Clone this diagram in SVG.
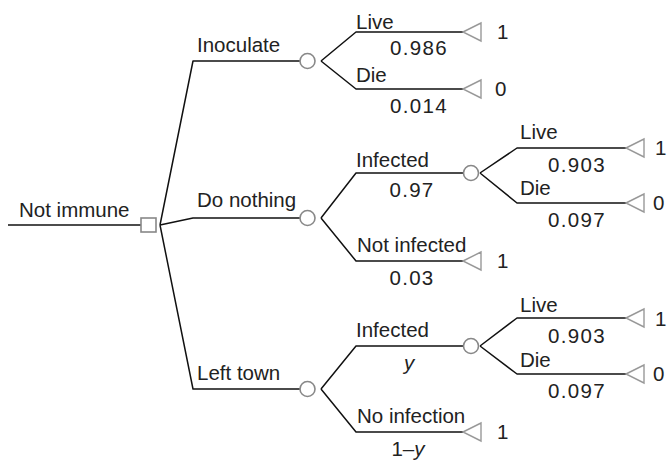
<svg xmlns="http://www.w3.org/2000/svg" width="667" height="464" viewBox="0 0 667 464">
<style>
.ln{fill:none;stroke:#111;stroke-width:1.5;stroke-linejoin:round}
.ch{fill:#fff;stroke:#888;stroke-width:1.6}
.tr{fill:#fff;stroke:#999;stroke-width:1.4}
text{font-family:"Liberation Sans",Arial,sans-serif;font-size:20.5px;fill:#222}
.c{text-anchor:middle}
.n{letter-spacing:1.3px}
.i{font-style:italic}
</style>
<rect width="667" height="464" fill="#fff"/>
<g id="connectors">
<path class="ln" d="M8,225 H141"/>
<path class="ln" d="M160,225 L193,61 H300"/>
<path class="ln" d="M160,225 L193,218 H300"/>
<path class="ln" d="M160,225 L193,389 H300"/>
<path class="ln" d="M321,61 L356,32 H463 M321,61 L356,89 H463"/>
<path class="ln" d="M321,218 L356,173 H463 M321,218 L356,261 H463"/>
<path class="ln" d="M480,173 L517,148 H626 M480,173 L517,203 H626"/>
<path class="ln" d="M321,389 L356,346 H463 M321,389 L356,432 H463"/>
<path class="ln" d="M480,346 L517,318 H626 M480,346 L517,374 H626"/>
</g>
<g id="root"><text x="19" y="217">Not immune</text></g>
<g id="decision"><rect class="ch" x="141" y="218" width="15" height="14"/></g>
<g id="inoculate">
<text x="197" y="52">Inoculate</text>
<circle class="ch" cx="307.5" cy="61" r="7.5"/>
</g>
<g id="inoc-live">
<text x="356" y="29">Live</text><text class="c n" x="419" y="55">0.986</text>
<path class="tr" d="M463,32 L481,23 V41 Z"/><text x="497" y="39">1</text>
</g>
<g id="inoc-die">
<text x="356" y="82">Die</text><text class="c n" x="419" y="113">0.014</text>
<path class="tr" d="M463,89 L481,80 V98 Z"/><text x="495" y="96">0</text>
</g>
<g id="do-nothing">
<text x="197" y="207">Do nothing</text>
<circle class="ch" cx="307.5" cy="218" r="7.5"/>
</g>
<g id="dn-infected">
<text x="356" y="167">Infected</text><text class="c n" x="412" y="197">0.97</text>
<circle class="ch" cx="471" cy="173" r="7.5"/>
</g>
<g id="dn-inf-live">
<text x="520" y="139">Live</text><text class="c n" x="577" y="172">0.903</text>
<path class="tr" d="M626,148 L644,139 V157 Z"/><text x="655" y="155">1</text>
</g>
<g id="dn-inf-die">
<text x="520" y="195">Die</text><text class="c n" x="577" y="227">0.097</text>
<path class="tr" d="M626,203 L644,194 V212 Z"/><text x="653" y="210">0</text>
</g>
<g id="dn-not-infected">
<text x="357" y="252">Not infected</text><text class="c n" x="412" y="285">0.03</text>
<path class="tr" d="M463,261 L481,252 V270 Z"/><text x="497" y="268">1</text>
</g>
<g id="left-town">
<text x="197" y="380">Left town</text>
<circle class="ch" cx="307.5" cy="389" r="7.5"/>
</g>
<g id="lt-infected">
<text x="356" y="337">Infected</text><text class="c i" x="409" y="370">y</text>
<circle class="ch" cx="471" cy="346" r="7.5"/>
</g>
<g id="lt-inf-live">
<text x="520" y="312">Live</text><text class="c n" x="577" y="343">0.903</text>
<path class="tr" d="M626,318 L644,309 V327 Z"/><text x="655" y="326">1</text>
</g>
<g id="lt-inf-die">
<text x="520" y="367">Die</text><text class="c n" x="577" y="398">0.097</text>
<path class="tr" d="M626,374 L644,365 V383 Z"/><text x="653" y="381">0</text>
</g>
<g id="lt-no-infection">
<text x="357" y="423">No infection</text><text class="c" x="408" y="456">1–<tspan class="i">y</tspan></text>
<path class="tr" d="M463,432 L481,423 V441 Z"/><text x="497" y="439">1</text>
</g>
</svg>
